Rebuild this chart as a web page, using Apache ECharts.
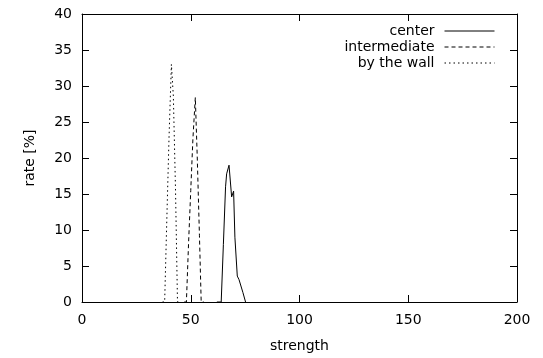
<!DOCTYPE html>
<html>
<head>
<meta charset="utf-8">
<script src="https://cdn.jsdelivr.net/npm/echarts@6/dist/echarts.min.js"></script>
<style>
html,body{margin:0;padding:0;background:#fff;}
#c{width:543px;height:358px;}
</style>
</head>
<body>
<div id="c"></div>
<script>
// ---- data ----
var seriesNames = ['center', 'intermediate', 'by the wall'];

var centerX = [62, 62.9, 64, 65, 66, 66.5, 67.6, 68.8, 69.7, 70.3, 71.4, 72.2, 72.9, 74, 75.2];
var centerY = [0, 0.25, 0, 8, 16, 17.8, 19, 14.6, 15.4, 9, 3.6, 3.1, 3, 1.3, 0];

var intermediateX = [47, 48, 49, 50, 51, 52.1, 53, 54, 54.8, 56];
var intermediateY = [0, 0, 8.2, 15.5, 22.7, 28.4, 20, 9.2, 0, 0];

var wallX = [37, 38, 39, 40, 41.1, 42, 43, 43.9, 45];
var wallY = [0, 0, 11.5, 22.7, 33, 28.6, 15.5, 0, 0];

var xTicks = [0, 50, 100, 150, 200];
var yTicks = [0, 5, 10, 15, 20, 25, 30, 35, 40];

function pairs(xs, ys) {
  var out = [];
  for (var i = 0; i < xs.length; i++) out.push([xs[i], ys[i]]);
  return out;
}

var FONT = 'DejaVu Sans';
var txt = {fontFamily: FONT, fontSize: 14, color: '#000'};

function xAx(pos, labels) {
  return {
    type: 'value', position: pos, min: xTicks[0], max: xTicks[xTicks.length - 1],
    interval: xTicks[1] - xTicks[0],
    axisLine: {show: true, onZero: false, lineStyle: {color: '#000', width: 1}},
    axisTick: {show: true, inside: true, length: 7, lineStyle: {color: '#000'}},
    axisLabel: {show: labels, margin: 11, fontFamily: FONT, fontSize: 14, color: '#000'},
    splitLine: {show: false}
  };
}
function yAx(pos, labels) {
  return {
    type: 'value', position: pos, min: yTicks[0], max: yTicks[yTicks.length - 1],
    interval: yTicks[1] - yTicks[0],
    axisLine: {show: true, onZero: false, lineStyle: {color: '#000', width: 1}},
    axisTick: {show: true, inside: true, length: 7, lineStyle: {color: '#000'}},
    axisLabel: {show: labels, margin: 10, fontFamily: FONT, fontSize: 14, color: '#000'},
    splitLine: {show: false}
  };
}

var xBottom = xAx('bottom', true);
xBottom.name = 'strength';
xBottom.nameLocation = 'middle';
xBottom.nameGap = 37;
xBottom.nameTextStyle = txt;
var xTop = xAx('top', false);

var yLeft = yAx('left', true);
yLeft.name = 'rate [%]';
yLeft.nameLocation = 'middle';
yLeft.nameRotate = 90;
yLeft.nameGap = 45;
yLeft.nameTextStyle = txt;
var yRight = yAx('right', false);

function line(name, xs, ys, type) {
  return {
    name: name, type: 'line', xAxisIndex: 0, yAxisIndex: 0,
    data: pairs(xs, ys), symbol: 'none', showSymbol: false,
    lineStyle: {color: '#000', width: 1, type: type},
    itemStyle: {color: '#000'},
    clip: true
  };
}

var chart = echarts.init(document.getElementById('c'), null, {renderer: 'canvas'});
chart.setOption({
  animation: false,
  backgroundColor: '#fff',
  grid: {left: 82, right: 26, top: 14, bottom: 52, containLabel: false},
  legend: {
    orient: 'vertical', right: 48, top: 24, align: 'right',
    itemWidth: 50, itemHeight: 14, itemGap: 2, padding: 0,
    itemStyle: {opacity: 0},
    lineStyle: {width: 1},
    formatter: function (n) { return '{a|' + n + '}'; },
    textStyle: {
      fontFamily: FONT, fontSize: 14, color: '#000',
      rich: {a: {fontFamily: FONT, fontSize: 14, color: '#000', padding: [0, 5, 0, 0]}}
    },
    data: seriesNames
  },
  xAxis: [xBottom, xTop],
  yAxis: [yLeft, yRight],
  series: [
    line(seriesNames[0], centerX, centerY, 'solid'),
    line(seriesNames[1], intermediateX, intermediateY, [4, 3]),
    line(seriesNames[2], wallX, wallY, [1.5, 3])
  ]
});
</script>
</body>
</html>
